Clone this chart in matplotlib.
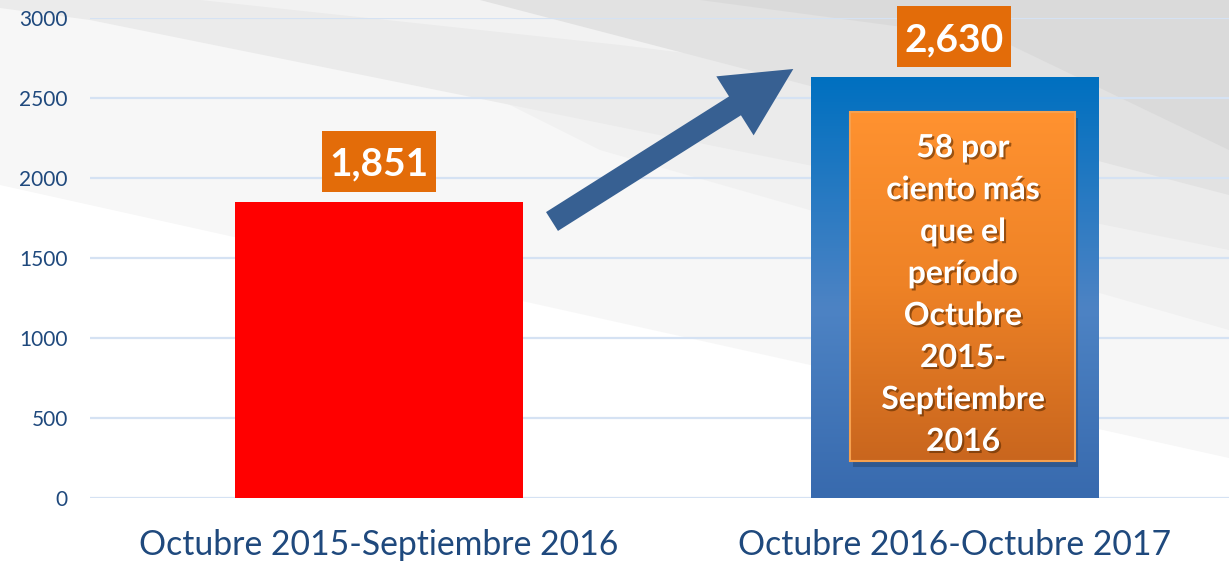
import numpy as np
import matplotlib
matplotlib.use('Agg')
import matplotlib.pyplot as plt
import matplotlib.patches as mpatches
import matplotlib.patheffects as pe
from matplotlib.colors import LinearSegmentedColormap
from matplotlib.transforms import IdentityTransform

# ---------------- data ----------------
categories = ['Octubre 2015-Septiembre 2016', 'Octubre 2016-Octubre 2017']
values = [1851, 2630]
value_labels = ['1,851', '2,630']
yticks = [0, 500, 1000, 1500, 2000, 2500, 3000]
note_lines = ['58 por', 'ciento más', 'que el', 'período', 'Octubre',
              '2015-', 'Septiembre', '2016']

plt.rcParams['font.family'] = ['Lato', 'DejaVu Sans']

W, H = 1229, 567
fig = plt.figure(figsize=(W / 100, H / 100), dpi=100)
fig.patch.set_facecolor('white')


def px(pts):
    return [(x, H - y) for x, y in pts]


# ---------------- background streaks (decoration) ----------------
bg = [
    ('#F7F7F7', [(0, 0), (1229, 0), (1229, 458), (0, 185)]),
    ('#F1F1F1', [(300, 0), (1229, 0), (1229, 330), (600, 150)]),
    ('#EBEBEB', [(0, 0), (1229, 0), (1229, 250), (90, 20), (0, 8)]),
    ('#F2F2F2', [(200, 0), (1229, 0), (1229, 120), (620, 45)]),
    ('#E2E2E2', [(480, 0), (1229, 0), (1229, 195)]),
    ('#DADADA', [(700, 0), (1229, 0), (1229, 150), (1000, 40)]),
]
for col, pts in bg:
    fig.add_artist(mpatches.Polygon(px(pts), closed=True, facecolor=col,
                                    edgecolor='none', transform=IdentityTransform(),
                                    zorder=-5))

# ---------------- axes ----------------
ax = fig.add_axes([90 / W, 1 - 498 / H, (W - 90) / W, (498 - 18) / H])
ax.set_facecolor('none')
XLIM = (-0.502, 1.477)
YLIM = (0, 3000)
ax.set_yticks(yticks)
ax.set_yticklabels([str(t) for t in yticks])
ax.grid(axis='y', color='#D5E2F3', linewidth=1.6, zorder=0)
ax.set_axisbelow(True)
for s in ax.spines.values():
    s.set_visible(False)
ax.tick_params(axis='y', length=0, pad=16, labelsize=15, labelcolor='#1F497D')
ax.tick_params(axis='x', length=0, pad=22, labelsize=24.3, labelcolor='#1F497D')
x = np.arange(len(categories))
ax.set_xticks(x)
ax.set_xticklabels(categories)

bars = ax.bar(x, values, width=0.5, color=['#FF0000', '#2F6FB8'], zorder=2)

# gradient fill for second bar
b = bars[1]
bx0, bw, bh = b.get_x(), b.get_width(), b.get_height()
blue_cmap = LinearSegmentedColormap.from_list(
    'blu', [(0, '#0070C0'), (0.55, '#4D83C4'), (1, '#386AAE')])
grad = np.linspace(0, 1, 256).reshape(-1, 1)
im = ax.imshow(grad, cmap=blue_cmap, aspect='auto',
               extent=(bx0, bx0 + bw, 0, bh), origin='upper', zorder=2.1)
im.set_clip_path(b)

# value labels with orange boxes
px_per_unit_y = 480 / 3000.0
px_per_unit_x = 575.5
box_w = 114 / px_per_unit_x
box_h = 61 / px_per_unit_y
box_off = 40.5 / px_per_unit_y
for xi, v, lab in zip(x, values, value_labels):
    cy = v + box_off
    ax.add_patch(mpatches.Rectangle((xi - box_w / 2, cy - box_h / 2), box_w, box_h,
                                    facecolor='#E36C09', edgecolor='none', zorder=6,
                                    clip_on=False))
    ax.text(xi, cy, lab, ha='center', va='center_baseline', fontsize=28,
            fontweight='bold', color='white', zorder=7, clip_on=False)

# orange note box inside the second bar
nx0, nx1 = 0.818, 1.209
ny0, ny1 = 231, 2412
shadow = mpatches.Rectangle((nx0 + 0.006, ny0 - 35), nx1 - nx0, ny1 - ny0,
                            facecolor='#1A3050', alpha=0.35, edgecolor='none', zorder=3)
ax.add_patch(shadow)
or_cmap = LinearSegmentedColormap.from_list(
    'org', [(0, '#FF9230'), (0.5, '#EE8226'), (1, '#C9661E')])
ax.imshow(grad, cmap=or_cmap, aspect='auto', extent=(nx0, nx1, ny0, ny1),
          origin='upper', zorder=3.2)
ax.add_patch(mpatches.Rectangle((nx0, ny0), nx1 - nx0, ny1 - ny0, facecolor='none',
                                edgecolor='#F6A04E', linewidth=1.5, zorder=3.3))
ax.text(1.015, (ny0 + ny1) / 2 - 50, '\n'.join(note_lines), ha='center', va='center',
        fontsize=23, fontweight='bold', color='white', linespacing=1.54, zorder=4,
        path_effects=[pe.withSimplePatchShadow(offset=(1.5, -1.5),
                                               shadow_rgbFace='#5A2A00', alpha=0.6)])

ax.set_xlim(*XLIM)
ax.set_ylim(*YLIM)

# arrow (decoration, pixel coordinates)
tail = (552, H - 221.5)
tip = (793.3, H - 69)
arr = mpatches.FancyArrow(tail[0], tail[1], tip[0] - tail[0], tip[1] - tail[1],
                          width=22.3, head_width=69.8, head_length=69,
                          length_includes_head=True, facecolor='#376092',
                          edgecolor='none', transform=IdentityTransform(), zorder=5)
fig.add_artist(arr)

fig.savefig('out.png', dpi=100)
